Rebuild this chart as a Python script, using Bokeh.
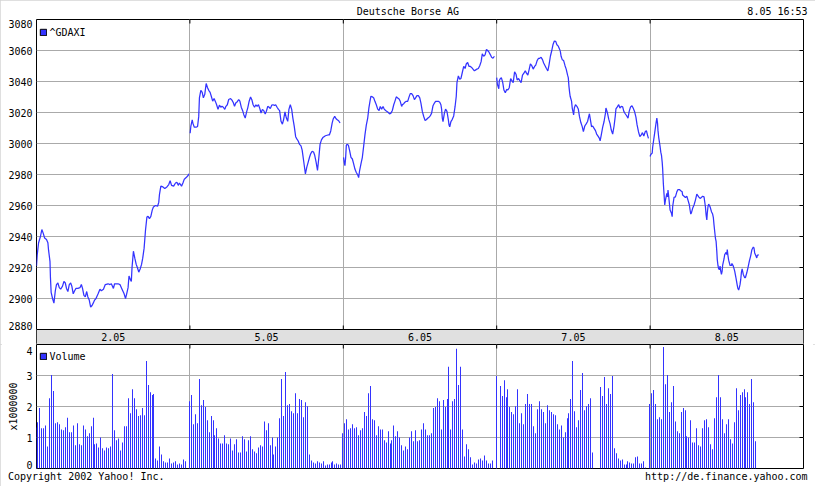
import math
from bokeh.plotting import figure
from bokeh.models import Range1d, FixedTicker, Grid, Legend, LegendItem, Span, LinearAxis
from bokeh.layouts import column
from bokeh.embed import file_html
from bokeh.resources import INLINE
from bokeh.core.properties import value

# ---------------- data ----------------
TITLE = "Deutsche Borse AG"
STAMP = "8.05 16:53"
COPYRIGHT = "Copyright 2002 Yahoo! Inc."
SOURCE_URL = "http://de.finance.yahoo.com"
PRICE_NAME = "^GDAXI"
VOLUME_NAME = "Volume"
VOLUME_UNIT = "x1000000"

day_labels = ["2.05", "5.05", "6.05", "7.05", "8.05"]
price_ticks = [2880, 2900, 2920, 2940, 2960, 2980, 3000, 3020, 3040, 3060, 3080]
volume_ticks = [0, 1, 2, 3, 4]          # millions of shares
SESSION_MINUTES = 660                   # 09:00 - 20:00
VOLUME_STEP = 660 / 78                  # minutes between volume bars

# price: minutes since 09:00 and index level, one pair of lists per day
d1_min = [0, 3, 9, 17, 23, 29, 35, 43, 49, 52, 58, 60, 63, 69, 75, 81, 86, 92, 98, 104,
          112, 118, 124, 129, 135, 141, 147, 152, 158, 164, 170, 178, 187, 193, 198, 204, 210, 216, 221, 227,
          233, 239, 244, 250, 256, 265, 273, 279, 288, 296, 308, 316, 322, 331, 336, 351, 359, 368, 377, 383,
          388, 394, 398, 403, 408, 411, 417, 423, 429, 434, 440, 446, 452, 457, 463, 469, 475, 480, 486, 492,
          498, 503, 512, 521, 526, 529, 535, 544, 552, 561, 569, 575, 581, 590, 598, 604, 610, 615, 624, 630,
          636, 644, 653, 656]
d1_px = [2921, 2928, 2936, 2940, 2944.5, 2942, 2939, 2938, 2936, 2931, 2924, 2913.5, 2904, 2900, 2897, 2905, 2909, 2910, 2907, 2906,
         2908, 2911, 2910, 2906.5, 2904.5, 2909, 2910, 2908, 2903, 2905, 2906.5, 2906.5, 2907, 2909, 2906.5, 2902, 2901, 2904.5, 2901, 2899,
         2894.5, 2895.5, 2897, 2899, 2900, 2903, 2906, 2905, 2906, 2909, 2909.5, 2909, 2909.5, 2906.5, 2909.5, 2909.5, 2909, 2906, 2903, 2900,
         2903, 2907, 2914.5, 2912.5, 2911, 2920, 2930.5, 2926, 2922, 2920, 2917, 2919, 2922, 2926, 2932.5, 2944, 2952.5, 2953, 2951.5, 2953,
         2957, 2959, 2960, 2959.5, 2962, 2967, 2972.5, 2972, 2971, 2972, 2973.5, 2976, 2973, 2972.5, 2974.5, 2975, 2973, 2974.5, 2972.5, 2974.5,
         2977, 2978, 2979.5, 2980.5]

d2_min = [1, 4, 10, 13, 19, 27, 33, 38, 41, 47, 53, 58, 64, 70, 76, 81, 87, 93, 98, 104,
          110, 115, 121, 127, 133, 138, 144, 150, 155, 161, 167, 175, 181, 187, 192, 198, 204, 210, 215, 221,
          227, 232, 238, 244, 249, 255, 261, 267, 272, 278, 284, 289, 295, 301, 306, 312, 318, 324, 329, 335,
          341, 346, 352, 358, 364, 369, 375, 381, 386, 392, 398, 403, 409, 415, 421, 426, 432, 438, 443, 449,
          455, 460, 466, 472, 478, 483, 489, 495, 497, 503, 509, 515, 520, 526, 532, 537, 543, 549, 555, 560,
          566, 572, 577, 583, 594, 600, 606, 612, 617, 623, 629, 634, 640, 646]
d2_px = [3006.6, 3011, 3015.3, 3013, 3010.5, 3010.5, 3011, 3017.5, 3029.5, 3034.3, 3033, 3029.5, 3031.7, 3038.7, 3036, 3034.3, 3033, 3030, 3027.3, 3029,
         3027, 3025, 3022, 3024.7, 3023.4, 3024, 3023.4, 3022, 3024, 3025, 3028.4, 3029, 3028, 3026.3, 3024, 3026.3, 3027, 3028.4, 3027.3, 3023.4,
         3021.2, 3018.6, 3016.4, 3020.4, 3023, 3027.3, 3030, 3028, 3025, 3023.4, 3025, 3024, 3025, 3022.5, 3019.7, 3022, 3021.2, 3019, 3020.8, 3024,
         3023.4, 3022.5, 3024.7, 3025, 3024.5, 3025, 3023.4, 3022, 3021.2, 3014.3, 3012.5, 3015.3, 3020.4, 3016.4, 3014.3, 3022, 3025, 3022, 3016.4, 3011,
         3004.4, 3003, 3001.6, 2999.4, 2998.5, 2995.7, 2989.2, 2982.6, 2980.4, 2984.8, 2988, 2991.3, 2993.5, 2995, 2994.5, 2992.4, 2988, 2982.6, 2991.3, 2999.4,
         3002.3, 3003.8, 3004.4, 3005, 3005.5, 3005.5, 3008.1, 3013.2, 3016, 3017.5, 3016, 3015.3, 3014.7, 3013.2]

d3_min = [1, 4, 7, 10, 13, 16, 22, 27, 33, 39, 44, 50, 56, 62, 66, 70, 76, 82, 88, 93,
          99, 105, 110, 116, 119, 125, 131, 136, 142, 148, 154, 159, 165, 171, 176, 182, 188, 194, 199, 205,
          211, 217, 222, 228, 234, 240, 245, 251, 254, 260, 265, 271, 277, 283, 288, 294, 300, 306, 311, 317,
          323, 329, 334, 340, 346, 352, 357, 363, 369, 374, 380, 386, 392, 397, 403, 409, 415, 420, 423, 426,
          429, 435, 440, 446, 452, 455, 458, 463, 469, 475, 481, 486, 489, 495, 501, 506, 512, 518, 524, 529,
          535, 541, 547, 552, 558, 564, 570, 575, 581, 587, 593, 598, 604, 610, 616, 621, 627, 633, 638, 644,
          650]
d3_px = [2991.1, 2987.9, 2985.7, 2990.7, 2998.8, 2999.5, 2998.8, 2995.5, 2991.1, 2990, 2987.2, 2983.5, 2981.3, 2979.8, 2978, 2982.4, 2986.8, 2991.1, 2998.8, 3005.4,
         3011.9, 3016.3, 3022.8, 3028.3, 3030.5, 3030.1, 3029.4, 3027.2, 3025, 3022.2, 3021.3, 3023.9, 3022.2, 3023.9, 3022.2, 3021.3, 3020.7, 3020, 3019.1, 3019.6,
         3021.3, 3025, 3027.2, 3030.1, 3029.4, 3028.7, 3027.2, 3023.9, 3025, 3025.7, 3026.6, 3027.2, 3027.2, 3030.1, 3032.2, 3032.2, 3030.9, 3028.3, 3029.4, 3030.9,
         3030.9, 3029.4, 3026.1, 3020.7, 3017.4, 3014.8, 3015.3, 3016.3, 3017, 3017.8, 3019.6, 3024.4, 3026.1, 3027.2, 3027.2, 3027.2, 3026.6, 3025, 3022.2, 3016.3,
         3014.1, 3019.6, 3022.2, 3020.7, 3015.3, 3011.9, 3010.8, 3014.1, 3015.6, 3017.8, 3023.9, 3030.5, 3039.2, 3043.6, 3041.4, 3041.9, 3045.8, 3049.7, 3048.4, 3051.3,
         3052.3, 3049.7, 3049.7, 3049.1, 3048, 3046.9, 3047.5, 3048, 3048.4, 3050.2, 3052.8, 3057.8, 3056.3, 3057.2, 3060.7, 3060, 3058.9, 3057.2, 3055.6, 3055,
         3056.3]

d4_min = [0, 3, 9, 11, 14, 20, 26, 31, 37, 43, 48, 54, 60, 66, 71, 77, 83, 88, 94, 100,
          105, 111, 117, 123, 128, 134, 140, 145, 151, 157, 163, 168, 174, 180, 185, 191, 197, 202, 208, 214,
          220, 225, 231, 237, 242, 248, 254, 259, 265, 271, 274, 277, 282, 288, 294, 299, 305, 308, 311, 314,
          316, 322, 325, 328, 331, 334, 339, 345, 351, 356, 362, 368, 373, 379, 385, 391, 396, 399, 402, 408,
          413, 419, 425, 430, 436, 442, 445, 450, 456, 462, 468, 470, 476, 482, 488, 493, 499, 505, 510, 513,
          519, 525, 530, 536, 542, 547, 553, 559, 565, 570, 576, 582, 587, 593, 599, 604, 610, 616, 622, 627,
          633, 639, 644, 650, 653]
d4_px = [3042.5, 3038.2, 3035.3, 3040.4, 3041.5, 3042.5, 3039.3, 3034.5, 3032.7, 3034.9, 3034.5, 3036, 3041.9, 3040.4, 3039.3, 3046.3, 3044.7, 3041, 3041.9, 3040.4,
         3039.3, 3044.1, 3045.4, 3046.9, 3045.4, 3044.1, 3048, 3051.3, 3050.2, 3048, 3049.7, 3050.6, 3053.5, 3055, 3055, 3055.6, 3054.1, 3051.9, 3050.2, 3048.4,
         3046.9, 3050.6, 3056.3, 3060, 3063.7, 3066.1, 3065.9, 3063.7, 3062.8, 3060.7, 3059.3, 3056.3, 3054.1, 3053.5, 3050.2, 3048, 3044.1, 3042.5, 3036.7, 3032.7,
         3030.5, 3027.3, 3022.9, 3020.7, 3018.5, 3022.9, 3025.1, 3024, 3022.3, 3017.5, 3013.5, 3010.9, 3007.6, 3011.3, 3012.7, 3014.2, 3017.5, 3019.2, 3016.4, 3010.9,
         3011.3, 3009.8, 3008.3, 3006.1, 3004.8, 3003.3, 3001.7, 3005.5, 3010.5, 3014.2, 3019.6, 3022.9, 3020.1, 3015.7, 3012.7, 3008.7, 3006.1, 3011.3, 3017.5, 3022.3,
         3023.6, 3025.1, 3022.9, 3024, 3023.6, 3020.7, 3019.2, 3017.9, 3016.4, 3020.7, 3023.6, 3024.4, 3022.9, 3020.7, 3017, 3012, 3007.6, 3004.4, 3005.5, 3007,
         3004.8, 3007.6, 3008.3, 3004.8, 3003.3]

d5_min = [0, 3, 9, 11, 14, 20, 23, 26, 29, 32, 34, 37, 43, 46, 49, 52, 54, 57, 60, 63,
          66, 72, 75, 77, 80, 83, 86, 92, 95, 97, 103, 109, 115, 120, 126, 132, 138, 140, 146, 152,
          158, 163, 169, 172, 175, 178, 183, 189, 195, 201, 204, 209, 215, 221, 226, 232, 235, 238, 241, 244,
          246, 249, 252, 258, 264, 269, 272, 275, 278, 281, 284, 287, 289, 292, 295, 298, 301, 304, 307, 310,
          312, 318, 321, 327, 330, 332, 335, 338, 344, 350, 352, 358, 364, 370, 375, 378, 381, 384, 387, 390,
          393, 396, 398, 401, 407, 410, 416, 421, 427, 433, 438, 444, 447, 450, 456, 459, 461, 467]
d5_px = [2991.6, 2992.9, 2993.8, 2997.6, 3000.8, 3007.2, 3010.4, 3013.6, 3016.4, 3013, 3008.3, 3004, 2998, 2994.4, 2992.3, 2988, 2983.8, 2974.2, 2967.3, 2960.3,
         2963.5, 2967.8, 2965.6, 2969.9, 2966, 2961.4, 2957.1, 2955, 2952.8, 2959.2, 2965.2, 2965.6, 2968.8, 2970.3, 2970.3, 2969.5, 2968.8, 2966.7, 2966, 2965.2,
         2966, 2963.5, 2960.3, 2957.1, 2954.5, 2955.4, 2958.2, 2960.3, 2963.5, 2967.3, 2966.7, 2965.6, 2964.6, 2965.2, 2966, 2965.6, 2962.4, 2959.2, 2953.9, 2950.7,
         2955, 2959.2, 2960.9, 2959.2, 2956, 2954.5, 2952.4, 2947.5, 2943.2, 2939, 2936.8, 2930.4, 2925.1, 2921.3, 2919.1, 2918.7, 2920.9, 2917.7, 2915.5, 2917.7,
         2921.3, 2925.5, 2928.3, 2929.8, 2928.3, 2931.5, 2927.7, 2924.7, 2921.3, 2921.3, 2922.6, 2920.9, 2917.7, 2912.8, 2908.5, 2906.4, 2905.5, 2907, 2909.1, 2912.3,
         2917, 2919.1, 2917.7, 2915.5, 2913.4, 2913.4, 2916.6, 2919.8, 2924.1, 2927.7, 2931.5, 2933.2, 2932.6, 2929.4, 2927.3, 2926.2, 2927.7, 2928.3]

# volume in millions, one bar per VOLUME_STEP, 0 = no bar
vol_d1 = [1.32, 1.49, 1.95, 1.30, 1.30, 1.39, 0.71, 2.27, 3.02, 2.50, 1.46, 1.49, 1.43, 1.26, 1.23, 1.33, 1.64, 1.17, 1.17, 1.39,
          0.75, 1.46, 0.78, 0.75, 1.39, 1.26, 1.04, 1.14, 1.36, 1.64, 0.78, 0.81, 0.68, 1.00, 0.65, 0.58, 0.68, 0.65, 0.71, 3.05,
          1.23, 0.91, 0.97, 0.58, 0.84, 1.36, 1.36, 2.27, 1.78, 2.56, 2.27, 1.91, 1.69, 1.72, 1.95, 1.72, 3.47, 2.69, 2.46, 2.37,
          2.40, 0.32, 0.26, 0.71, 0.45, 0.23, 0.19, 0.19, 0.32, 0.16, 0.19, 0.23, 0.13, 0.16, 0.13, 0.29, 0.23]
vol_d2 = [2.17, 2.37, 1.43, 1.75, 1.46, 2.89, 2.04, 2.21, 1.98, 1.56, 1.17, 1.69, 1.56, 1.07, 1.30, 0.97, 0.81, 0.81, 1.07, 0.81,
          0.78, 0.97, 0.58, 0.78, 0.94, 0.52, 0.52, 1.04, 0.94, 0.55, 0.91, 1.04, 0.62, 0.55, 0.49, 0.68, 0.75, 0.71, 1.52, 1.23,
          1.46, 0.75, 1.00, 0.45, 0.71, 1.00, 1.62, 2.89, 1.69, 3.11, 2.04, 2.08, 1.85, 1.78, 2.43, 1.78, 2.24, 2.21, 1.65, 2.14,
          2.01, 0.45, 0.26, 0.19, 0.16, 0.23, 0.19, 0.16, 0.23, 0.10, 0.13, 0.13, 0.19, 0.23, 0.13, 0.16, 0.13, 0.13]
vol_d3 = [1.14, 1.46, 1.59, 1.26, 1.30, 1.43, 1.30, 1.33, 1.07, 1.23, 1.30, 1.82, 1.69, 2.43, 2.66, 1.59, 1.56, 1.07, 1.36, 1.26,
          1.26, 0.91, 0.84, 1.20, 0.81, 0.91, 1.39, 1.04, 1.20, 1.00, 0.75, 0.58, 0.71, 0.62, 1.00, 1.20, 0.88, 1.23, 0.88, 0.91,
          1.26, 1.46, 1.26, 1.07, 1.07, 1.14, 1.95, 1.98, 2.27, 2.17, 1.26, 2.21, 1.98, 2.24, 3.28, 1.26, 2.17, 2.24, 3.86, 2.69,
          3.28, 1.26, 0.39, 0.78, 0.62, 0.36, 0.13, 0.19, 0.16, 0.29, 0.32, 0.26, 0.42, 0.26, 0.16, 0.16, 0.26]
vol_d4 = [2.98, 0, 2.66, 2.34, 2.85, 2.30, 2.56, 1.98, 1.82, 1.75, 2.01, 2.56, 1.46, 1.78, 1.43, 2.08, 2.40, 2.08, 2.08, 1.36,
          1.14, 1.91, 2.17, 1.91, 1.82, 1.46, 2.04, 1.88, 1.82, 1.75, 1.72, 1.43, 1.26, 1.39, 1.00, 1.17, 1.62, 1.78, 2.24, 3.47,
          1.85, 1.33, 1.56, 2.53, 3.08, 1.88, 2.01, 2.08, 2.27, 0.52, 0, 0, 0, 2.63, 2.34, 2.95, 2.08, 2.59, 2.40, 2.98,
          0.65, 0.49, 0.32, 0.26, 0.29, 0.13, 0.13, 0.23, 0.19, 0.16, 0.16, 0.36, 0.39, 0.16, 0.16, 0.23, 0.03]
vol_d5 = [2.08, 2.43, 2.53, 2.08, 1.59, 1.65, 1.59, 3.92, 2.72, 3.02, 1.82, 2.14, 2.66, 1.52, 1.20, 1.14, 1.82, 1.95, 1.88, 1.04,
          1.00, 1.56, 0.84, 0.84, 1.30, 0.75, 0.71, 1.30, 1.56, 1.59, 1.33, 0.78, 0.62, 1.62, 2.30, 3.02, 2.30, 1.59, 1.14, 1.43,
          1.59, 0.94, 0.81, 1.49, 2.59, 1.88, 2.37, 2.46, 2.56, 2.30, 2.46, 2.08, 2.89, 2.14, 0.88]

price_days = [(d1_min, d1_px), (d2_min, d2_px), (d3_min, d3_px), (d4_min, d4_px), (d5_min, d5_px)]
volume_days = [vol_d1, vol_d2, vol_d3, vol_d4, vol_d5]

# ---------------- styling / layout (page pixels) ----------------
FONT = "DejaVu Sans Mono"
FS = "10px"
CHAR_W = 6.02                    # advance of a 10px DejaVu Sans Mono glyph
BLUE = "#3333ff"
GRID = "#aaaaaa"
BAND = "#e0e0e0"
W, TOTAL_H = 815, 486
FR_L, FR_R = 36, 803
PRICE_TOP, PRICE_PLOT_H, BAND_H, VOL_H = 19, 310, 15, 124
TICK_PX = 4
TITLE_CX, STAMP_RIGHT, COPY_LEFT, URL_RIGHT = 407.5, 807, 7.5, 807

FRAME_W = FR_R - FR_L
PRICE_FIG_H = PRICE_TOP + PRICE_PLOT_H + BAND_H
VOL_FIG_H = TOTAL_H - PRICE_FIG_H

n_days = len(day_labels)
x_end = n_days * SESSION_MINUTES
day_edges = [SESSION_MINUTES * k for k in range(1, n_days)]
day_mid = [SESSION_MINUTES * (k + 0.5) for k in range(n_days)]
x_per_px = x_end / FRAME_W
pmin, pmax = price_ticks[0], price_ticks[-1]
p_per_px = (pmax - pmin) / PRICE_PLOT_H
band_lo = pmin - BAND_H * p_per_px
vmin, vmax = volume_ticks[0], volume_ticks[-1]
v_per_px = (vmax - vmin) / VOL_H


def xpos(page_px):
    return round((page_px - FR_L) * x_per_px)


def strip(f):
    for g in f.grid:
        g.visible = False


def style_axis(ax, standoff):
    ax.axis_line_color = None
    ax.major_tick_out = 0
    ax.major_tick_in = 0
    ax.minor_tick_line_color = None
    ax.major_label_standoff = standoff
    ax.major_label_text_font = FONT
    ax.major_label_text_font_size = FS
    ax.major_label_text_color = "black"


def legend_for(f, label, renderer, frame_h, top_px):
    leg = Legend(items=[LegendItem(label=label, renderers=[renderer])],
                 location=(2.5, frame_h - top_px - 12), margin=0, padding=0, spacing=0,
                 glyph_width=8, glyph_height=8, label_height=8, label_standoff=3,
                 border_line_color=None, background_fill_alpha=0,
                 label_text_font=FONT, label_text_font_size=FS, label_text_color="black")
    f.add_layout(leg)


# ---------- price panel (frame includes the date band at the bottom) ----------
p = figure(width=W, height=PRICE_FIG_H, x_range=Range1d(0, x_end), y_range=Range1d(band_lo, pmax),
           output_backend="svg", toolbar_location=None, x_axis_location=None,
           min_border_left=FR_L, min_border_right=W - FR_R, min_border_top=PRICE_TOP, min_border_bottom=0)
strip(p)
p.outline_line_color = "black"
p.add_layout(Grid(dimension=0, ticker=FixedTicker(ticks=day_edges), grid_line_color=GRID))
p.add_layout(Grid(dimension=1, ticker=FixedTicker(ticks=price_ticks), grid_line_color=GRID))

# left labels; the outermost ones sit slightly inside the frame as in the original
p_lo_lab = round(pmin + 3.3 * p_per_px, 1)
p_hi_lab = round(pmax - 4.3 * p_per_px, 1)
ya = p.yaxis[0]
style_axis(ya, 4)
ya.ticker = FixedTicker(ticks=[p_lo_lab] + price_ticks[1:-1] + [p_hi_lab])
ya.major_label_overrides = {p_lo_lab: str(pmin), p_hi_lab: str(pmax)}

# heading as a label row above the frame
t_title, t_stamp = xpos(TITLE_CX), xpos(STAMP_RIGHT - len(STAMP) * CHAR_W / 2)
top_ax = LinearAxis(ticker=FixedTicker(ticks=[t_title, t_stamp]),
                    major_label_overrides={t_title: TITLE, t_stamp: STAMP})
style_axis(top_ax, 3)
p.add_layout(top_ax, "above")

p.quad(left=[0], right=[x_end], bottom=[band_lo], top=[pmin], fill_color=BAND, line_color=None)
p.add_layout(Span(location=pmin, dimension="width", line_color="black", line_width=1))
p.segment(x0=day_edges, y0=[pmin] * len(day_edges), x1=day_edges, y1=[pmin + TICK_PX * p_per_px] * len(day_edges),
          line_color="black")
p.segment(x0=day_edges, y0=[pmax] * len(day_edges), x1=day_edges, y1=[pmax - TICK_PX * p_per_px] * len(day_edges),
          line_color="black")
p.segment(x0=[x_end] * len(price_ticks), y0=price_ticks, x1=[x_end - TICK_PX * x_per_px] * len(price_ticks),
          y1=price_ticks, line_color="black")
p.text(x=day_mid, y=[(band_lo + pmin) / 2] * n_days, text=day_labels, text_align="center",
       text_baseline="middle", text_font=value(FONT), text_font_size=FS, text_color="black")

for k, (mins, vals) in enumerate(price_days):
    p.line([k * SESSION_MINUTES + m for m in mins], vals, line_color=BLUE, line_width=1.25)

pkey = p.quad(left=[0], right=[0], bottom=[pmax], top=[pmax], fill_color=BLUE, line_color="black", line_width=1)
legend_for(p, PRICE_NAME, pkey, PRICE_PLOT_H + BAND_H, 6.9)

# ---------- volume panel ----------
v = figure(width=W, height=VOL_FIG_H, x_range=Range1d(0, x_end), y_range=Range1d(vmin, vmax),
           output_backend="svg", toolbar_location=None, x_axis_location=None,
           min_border_left=FR_L, min_border_right=W - FR_R, min_border_top=0, min_border_bottom=VOL_FIG_H - VOL_H)
strip(v)
v.outline_line_color = "black"
v.add_layout(Grid(dimension=0, ticker=FixedTicker(ticks=day_edges), grid_line_color=GRID))
v.add_layout(Grid(dimension=1, ticker=FixedTicker(ticks=volume_ticks), grid_line_color=GRID))

v_lo_lab = round(vmin + 3.5 * v_per_px, 3)
v_hi_lab = round(vmax - 6.0 * v_per_px, 3)
va = v.yaxis[0]
style_axis(va, 4)
va.ticker = FixedTicker(ticks=[v_lo_lab] + volume_ticks[1:-1] + [v_hi_lab])
va.major_label_overrides = {v_lo_lab: str(vmin), v_hi_lab: str(vmax)}
va.axis_label = VOLUME_UNIT
va.axis_label_text_font = FONT
va.axis_label_text_font_size = FS
va.axis_label_text_font_style = "normal"
va.axis_label_text_color = "black"
va.axis_label_standoff = 4

# footer as a label row below the frame
t_copy = xpos(COPY_LEFT + len(COPYRIGHT) * CHAR_W / 2)
t_url = xpos(URL_RIGHT - len(SOURCE_URL) * CHAR_W / 2)
bot_ax = LinearAxis(ticker=FixedTicker(ticks=[t_copy, t_url]),
                    major_label_overrides={t_copy: COPYRIGHT, t_url: SOURCE_URL})
style_axis(bot_ax, 2)
v.add_layout(bot_ax, "below")

bx, bt = [], []
for k, vols in enumerate(volume_days):
    for i, q in enumerate(vols):
        if q > 0:
            t = k * SESSION_MINUTES + i * VOLUME_STEP
            bx.append(math.floor(t / x_per_px) * x_per_px)   # keep 1px bars on whole device pixels
            bt.append(q)
v.vbar(x=bx, top=bt, bottom=0, width=x_per_px, fill_color=BLUE, line_color=None)
v.segment(x0=day_edges, y0=[vmax] * len(day_edges), x1=day_edges, y1=[vmax - TICK_PX * v_per_px] * len(day_edges),
          line_color="black")
v.segment(x0=[x_end] * len(volume_ticks), y0=volume_ticks, x1=[x_end - TICK_PX * x_per_px] * len(volume_ticks),
          y1=volume_ticks, line_color="black")
vkey = v.quad(left=[0], right=[0], bottom=[vmax], top=[vmax], fill_color=BLUE, line_color="black", line_width=1)
legend_for(v, VOLUME_NAME, vkey, VOL_H, 5.9)

layout = column(p, v, styles={"outline": "2px solid #d4d4d4", "outline-offset": "-2px"})
open("out.html", "w").write(file_html(layout, INLINE))
